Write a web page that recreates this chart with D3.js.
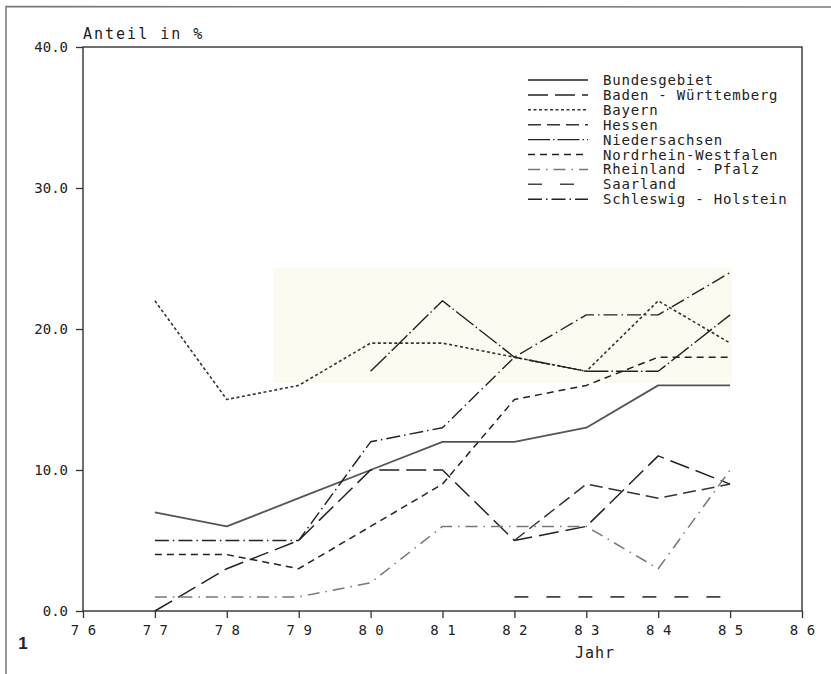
<!DOCTYPE html>
<html>
<head>
<meta charset="utf-8">
<script src="https://cdn.jsdelivr.net/npm/d3@7"></script>
<style>
  body { margin: 0; background: #fff; }
  svg { display: block; }
  text { font-family: "DejaVu Sans Mono", "Liberation Mono", monospace; fill: #222; }
</style>
</head>
<body>
<div id="chart"></div>
<script>
// years on the x axis (19xx)
const years = [77, 78, 79, 80, 81, 82, 83, 84, 85];
const xTicks = [76, 77, 78, 79, 80, 81, 82, 83, 84, 85, 86];
const yTicks = [0, 10, 20, 30, 40];

// Anteil in % per Land
const bundesgebiet = [7, 6, 8, 10, 12, 12, 13, 16, 16];
const badenWuerttemberg = [0, 3, 5, 10, 10, 5, 6, 11, 9];
const bayern = [22, 15, 16, 19, 19, 18, 17, 22, 19];
const hessen = [null, null, null, null, null, 5, 9, 8, 9];
const niedersachsen = [null, null, null, 17, 22, 18, 17, 17, 21];
const nordrheinWestfalen = [4, 4, 3, 6, 9, 15, 16, 18, 18];
const rheinlandPfalz = [1, 1, 1, 2, 6, 6, 6, 3, 10];
const saarland = [null, null, null, null, null, 1, 1, 1, 1];
const schleswigHolstein = [5, 5, 5, 12, 13, 18, 21, 21, 24];

const seriesNames = ['Bundesgebiet', 'Baden - Württemberg', 'Bayern', 'Hessen', 'Niedersachsen',
  'Nordrhein-Westfalen', 'Rheinland - Pfalz', 'Saarland', 'Schleswig - Holstein'];

const series = [
  { name: seriesNames[0], values: bundesgebiet, dash: null, color: '#555', width: 1.8 },
  { name: seriesNames[1], values: badenWuerttemberg, dash: '20,7', color: '#222', width: 1.5 },
  { name: seriesNames[2], values: bayern, dash: '3,2.5', color: '#333', width: 1.6 },
  { name: seriesNames[3], values: hessen, dash: '13,6', color: '#333', width: 1.5 },
  { name: seriesNames[4], values: niedersachsen, dash: '22,3,1.5,3', color: '#222', width: 1.4 },
  { name: seriesNames[5], values: nordrheinWestfalen, dash: '7,5', color: '#222', width: 1.5 },
  { name: seriesNames[6], values: rheinlandPfalz, dash: '12,6,1.5,6', color: '#777', width: 1.5 },
  { name: seriesNames[7], values: saarland, dash: '14,18', color: '#444', width: 1.6 },
  { name: seriesNames[8], values: schleswigHolstein, dash: '14,4,1.5,4', color: '#222', width: 1.4 }
];

const W = 831, H = 674;
const plot = { left: 83, right: 802, top: 47, bottom: 611 };

const svg = d3.select('#chart').append('svg')
  .attr('width', W)
  .attr('height', H);

// outer frame (scan edge)
svg.append('path')
  .attr('d', `M6,${H} L6,6.5 L${W},7`)
  .attr('fill', 'none')
  .attr('stroke', '#777')
  .attr('stroke-width', 1.5);

// faint scan tint
svg.append('rect')
  .attr('x', 273).attr('y', 268)
  .attr('width', 459).attr('height', 115)
  .attr('fill', '#fbfbf2');

const x = d3.scaleLinear().domain([76, 86]).range([plot.left, plot.right]);
const y = d3.scaleLinear().domain([0, 40]).range([plot.bottom, plot.top]);

// plot box
svg.append('rect')
  .attr('x', plot.left).attr('y', plot.top)
  .attr('width', plot.right - plot.left)
  .attr('height', plot.bottom - plot.top)
  .attr('fill', 'none')
  .attr('stroke', '#333')
  .attr('stroke-width', 1.4);

// Y axis
const yAxis = svg.append('g')
  .attr('transform', `translate(${plot.left},0)`)
  .call(d3.axisLeft(y).tickValues(yTicks).tickSize(7).tickPadding(8).tickFormat(d3.format('.1f')));
yAxis.select('.domain').remove();
yAxis.selectAll('line').attr('stroke', '#333').attr('stroke-width', 1.3);
yAxis.selectAll('text')
  .style('font-family', '"DejaVu Sans Mono", monospace')
  .style('font-size', '14px')
  .attr('fill', '#222');

// X axis
const xAxis = svg.append('g')
  .attr('transform', `translate(0,${plot.bottom})`)
  .call(d3.axisBottom(x).tickValues(xTicks).tickSize(7).tickPadding(7)
    .tickFormat(d => String(d).split('').join(' ')));
xAxis.select('.domain').remove();
xAxis.selectAll('line').attr('stroke', '#333').attr('stroke-width', 1.3);
xAxis.selectAll('text')
  .style('font-family', '"DejaVu Sans Mono", monospace')
  .style('font-size', '14px')
  .attr('fill', '#222');

// axis titles
svg.append('text')
  .attr('x', plot.left)
  .attr('y', 39)
  .style('font-size', '15px')
  .style('letter-spacing', '2px')
  .text('Anteil in %');

svg.append('text')
  .attr('x', 595)
  .attr('y', 658)
  .attr('text-anchor', 'middle')
  .style('font-size', '15px')
  .style('letter-spacing', '1px')
  .text('Jahr');

svg.append('text')
  .attr('x', 23)
  .attr('y', 649)
  .attr('text-anchor', 'middle')
  .style('font-family', '"Liberation Sans", Arial, sans-serif')
  .style('font-weight', 'bold')
  .style('font-size', '17px')
  .text('1');

// lines
const line = d3.line()
  .defined(d => d.v !== null)
  .x(d => x(d.year))
  .y(d => y(d.v));

series.forEach(s => {
  const pts = years.map((yr, i) => ({ year: yr, v: s.values[i] }));
  svg.append('path')
    .datum(pts)
    .attr('fill', 'none')
    .attr('stroke', s.color)
    .attr('stroke-width', s.width)
    .attr('stroke-dasharray', s.dash)
    .attr('stroke-linejoin', 'round')
    .attr('d', line);
});

// legend
const legend = svg.append('g').attr('transform', 'translate(528,80)');
series.forEach((s, i) => {
  const row = legend.append('g').attr('transform', `translate(0,${i * 14.9})`);
  row.append('line')
    .attr('x1', 0).attr('x2', 60)
    .attr('y1', 0).attr('y2', 0)
    .attr('stroke', s.color)
    .attr('stroke-width', s.width)
    .attr('stroke-dasharray', s.dash);
  row.append('text')
    .attr('x', 75)
    .attr('y', 0)
    .attr('dy', '0.36em')
    .style('font-size', '14px')
    .style('letter-spacing', '0.8px')
    .text(s.name);
});
</script>
</body>
</html>
